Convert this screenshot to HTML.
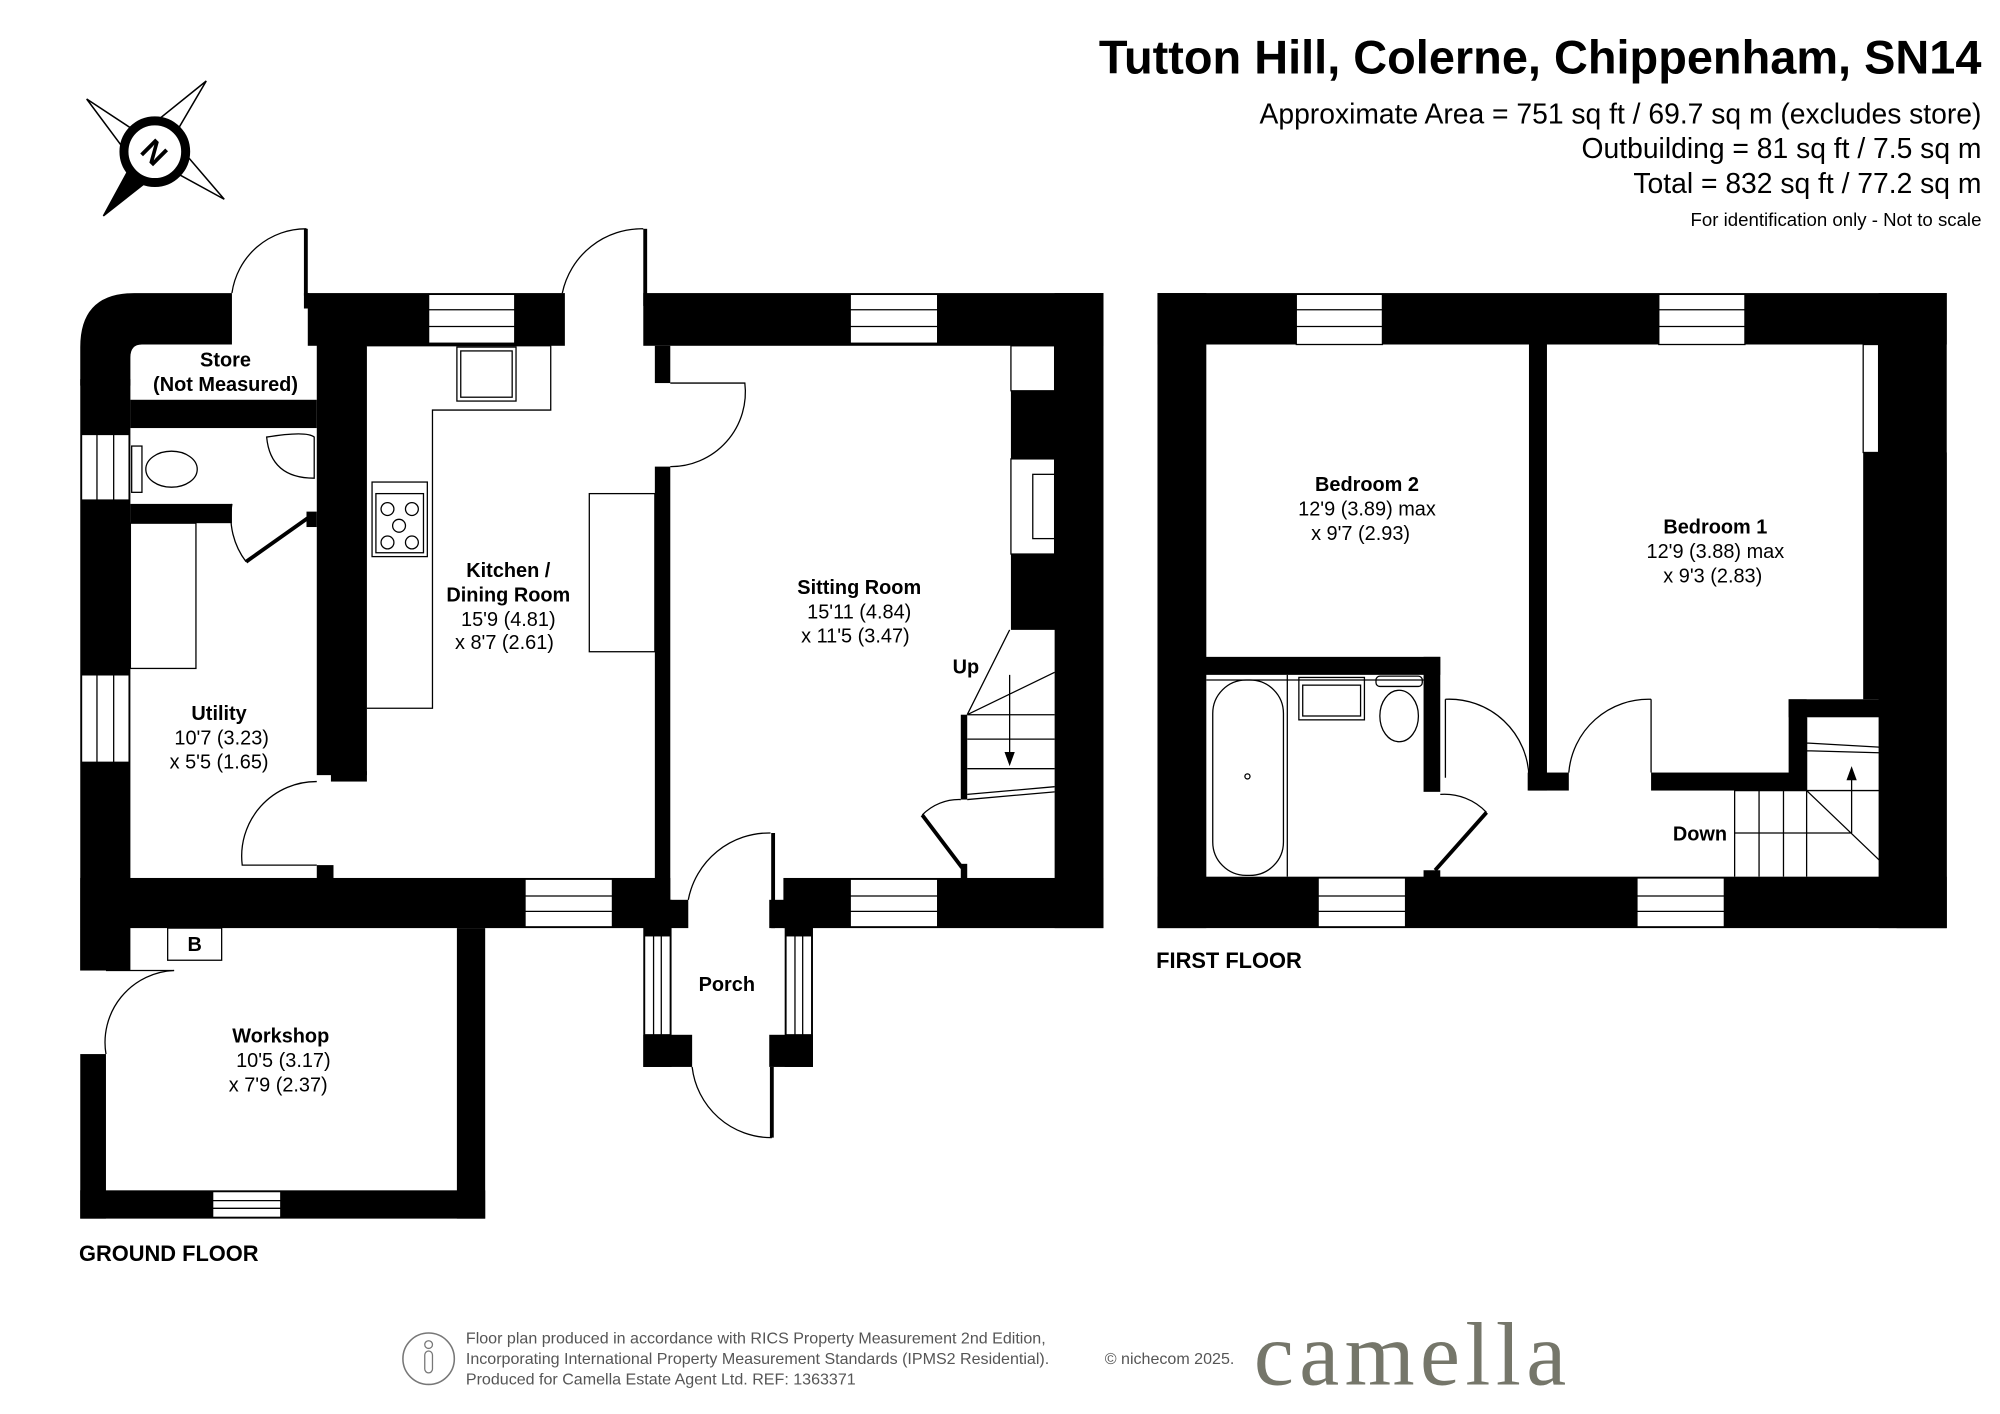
<!DOCTYPE html>
<html><head><meta charset="utf-8"><style>
html,body{margin:0;padding:0;background:#fff}
svg{display:block}
text{font-family:"Liberation Sans",sans-serif;fill:#000}
.b{font-weight:bold}
</style></head><body>
<svg width="2000" height="1414" viewBox="0 0 1555 1100" xmlns="http://www.w3.org/2000/svg">
<rect width="1555" height="1100" fill="#fff"/>
<!-- Title -->
<text x="1541" y="57" text-anchor="end" class="b" font-size="36.5">Tutton Hill, Colerne, Chippenham, SN14</text>
<text x="1541" y="96" text-anchor="end" font-size="22">Approximate Area = 751 sq ft / 69.7 sq m (excludes store)</text>
<text x="1541" y="123" text-anchor="end" font-size="22">Outbuilding = 81 sq ft / 7.5 sq m</text>
<text x="1541" y="150" text-anchor="end" font-size="22">Total = 832 sq ft / 77.2 sq m</text>
<text x="1541" y="176" text-anchor="end" font-size="14.5">For identification only - Not to scale</text>
<!-- Compass -->
<g stroke="#000" stroke-width="1.2" fill="#fff">
<polygon points="67,77 108,104 96,116"/>
<polygon points="160,63 136,104 124,92"/>
<polygon points="174,155 132,132 144,120"/>
<polygon points="80,168 104,124 118,138" fill="#000"/>
<circle cx="120" cy="118" r="24" stroke-width="7"/>
</g>
<text x="120" y="127" text-anchor="middle" class="b" font-size="24" transform="rotate(45 120 118)">N</text>

<!-- GROUND FLOOR walls -->
<g fill="#000">
<path d="M62,300 L62,270 Q62,228 104,228 L180,228 L180,268 L110,268 Q101,268 101,278 L101,300 Z"/>
<rect x="236" y="228" width="4" height="12"/>
<rect x="236" y="178" width="3" height="52"/>
<rect x="239" y="228" width="200" height="41"/>
<rect x="62" y="295" width="39" height="460"/>
<rect x="101" y="311" width="145" height="22"/>
<rect x="101" y="392" width="79" height="15"/>
<rect x="238" y="398" width="8" height="12"/>
<rect x="246" y="250" width="39" height="353"/>
<rect x="257" y="600" width="28" height="8"/>
<rect x="246" y="673" width="13" height="12"/>
<rect x="62" y="683" width="459" height="39"/>
<rect x="500" y="228" width="358" height="41"/>
<rect x="500" y="178" width="3" height="60"/>
<rect x="509" y="269" width="12" height="29"/>
<rect x="509" y="363" width="12" height="360"/>
<rect x="820" y="228" width="38" height="494"/>
<rect x="786" y="304" width="36" height="53"/>
<rect x="786" y="431" width="36" height="59"/>
<rect x="609" y="683" width="249" height="39"/>
<rect x="747" y="556" width="5" height="66"/>
<rect x="747" y="672" width="5" height="12"/>
<rect x="500" y="700" width="22" height="130"/>
<rect x="500" y="805" width="38" height="25"/>
<rect x="610" y="700" width="22" height="130"/>
<rect x="598" y="805" width="34" height="25"/>
<rect x="521" y="700" width="14" height="22"/>
<rect x="598" y="700" width="12" height="22"/>
<rect x="62" y="722" width="20" height="33"/>
<rect x="62" y="820" width="20" height="128"/>
<rect x="62" y="926" width="315" height="22"/>
<rect x="355" y="722" width="22" height="226"/>
</g>
<g fill="#fff" stroke="#000" stroke-width="1">
<rect x="333" y="229" width="67" height="38"/>
<rect x="661" y="229" width="68" height="38"/>
<rect x="63" y="338" width="37" height="51"/>
<rect x="63" y="525" width="37" height="68"/>
<rect x="408" y="684" width="68" height="37"/>
<rect x="661" y="684" width="68" height="37"/>
<rect x="501" y="728" width="20" height="77"/>
<rect x="611" y="728" width="20" height="77"/>
<rect x="165" y="927" width="53" height="20"/>
</g>
<g stroke="#000" stroke-width="1" fill="none">
<path d="M333,241H400M333,254H400M661,241H729M661,254H729M408,697H476M408,709H476M661,697H729M661,709H729M165,934H218M165,940H218"/>
<path d="M75,338V389M88,338V389M75,525V593M88,525V593M508,728V805M514,728V805M618,728V805M624,728V805"/>
<path d="M180,228 A58,58 0 0 1 238,178"/>
<path d="M437,228 A63,63 0 0 1 500,178"/>
<path d="M521,298 H579 A58,58 0 0 1 521,363"/>
<path d="M246,608 A58,58 0 0 0 188,673 H246"/>
<path d="M180,392 A58,58 0 0 0 191,437"/>
<path d="M717,634 A40,40 0 0 1 747,622"/>
<path d="M535,700 A64,64 0 0 1 599,648"/>
<path d="M538,830 A62,62 0 0 0 600,885"/>
<path d="M82,820 A56,56 0 0 1 135,755"/>
<path d="M285,269 H428 V319 H336 V551 H285"/>
<rect x="355" y="270" width="46" height="42"/>
<rect x="358" y="273" width="40" height="36"/>
<rect x="289" y="375" width="43" height="58"/>
<rect x="292" y="384" width="37" height="46"/>
<circle cx="301" cy="396" r="5"/><circle cx="320" cy="396" r="5"/><circle cx="310" cy="409" r="5"/><circle cx="301" cy="422" r="5"/><circle cx="320" cy="422" r="5"/>
<rect x="458" y="384" width="51" height="123"/>
<rect x="101" y="407" width="51" height="113"/>
<ellipse cx="133" cy="365" rx="20" ry="14"/>
<rect x="102" y="347" width="8" height="36"/>
<path d="M207,340 Q238,335 244,340 V372 Q210,372 207,340Z"/>
<rect x="786" y="269" width="34" height="35"/>
<rect x="786" y="357" width="34" height="74"/>
<rect x="803" y="369" width="17" height="50"/>
<path d="M785,490 L752,556 M752,556 L820,523 M752,556 H820 M752,575 H820 M752,598 H820 M752,618 L820,612 M752,622 L820,616 M785,525 V591"/>
<rect x="130" y="722" width="42" height="25"/>
<path d="M82,755 H135"/>
</g>
<polygon points="781,585 789,585 785,596" fill="#000"/>
<g stroke="#000" stroke-width="3" fill="none">
<path d="M239,403 L191,437 M717,634 L748,675 M601,648 V722 M600,830 V885"/>
</g>
<g font-size="15.5" text-anchor="middle">
<text x="175" y="285" class="b">Store</text>
<text x="175" y="304" class="b">(Not Measured)</text>
<text x="395" y="449" class="b">Kitchen /</text>
<text x="395" y="468" class="b">Dining Room</text>
<text x="395" y="487">15'9 (4.81)</text>
<text x="392" y="505">x 8'7 (2.61)</text>
<text x="668" y="462" class="b">Sitting Room</text>
<text x="668" y="481">15'11 (4.84)</text>
<text x="665" y="500">x 11'5 (3.47)</text>
<text x="751" y="524" class="b">Up</text>
<text x="170" y="560" class="b">Utility</text>
<text x="172" y="579">10'7 (3.23)</text>
<text x="170" y="598">x 5'5 (1.65)</text>
<text x="565" y="771" class="b">Porch</text>
<text x="151" y="740" class="b">B</text>
<text x="218" y="811" class="b">Workshop</text>
<text x="220" y="830">10'5 (3.17)</text>
<text x="216" y="849">x 7'9 (2.37)</text>
</g>
<text x="61" y="981" class="b" font-size="17">GROUND FLOOR</text>

<!-- FIRST FLOOR -->
<g fill="#000">
<rect x="900" y="228" width="614" height="40"/>
<rect x="900" y="228" width="38" height="494"/>
<rect x="900" y="682" width="614" height="40"/>
<rect x="1461" y="228" width="53" height="494"/>
<rect x="1449" y="352" width="65" height="192"/>
<rect x="1475" y="544" width="39" height="178"/>
<rect x="1391" y="544" width="84" height="14"/>
<rect x="1391" y="544" width="14" height="71"/>
<rect x="1284" y="601" width="121" height="14"/>
<rect x="1189" y="268" width="14" height="347"/>
<rect x="1188" y="601" width="32" height="14"/>
<rect x="932" y="511" width="188" height="14"/>
<rect x="1107" y="511" width="13" height="105"/>
<rect x="1107" y="677" width="13" height="6"/>
</g>
<g fill="#fff" stroke="#000" stroke-width="1">
<rect x="1008" y="229" width="67" height="39"/>
<rect x="1290" y="229" width="67" height="39"/>
<rect x="1025" y="683" width="68" height="38"/>
<rect x="1273" y="683" width="68" height="38"/>
<rect x="1449" y="268" width="12" height="84"/>
</g>
<g stroke="#000" stroke-width="1" fill="none">
<path d="M1008,241H1075M1008,254H1075M1290,241H1357M1290,254H1357M1025,697H1093M1025,709H1093M1273,697H1341M1273,709H1341"/>
<path d="M938,529 H1107 M1001,525 V682"/>
<rect x="943" y="529" width="55" height="152" rx="26"/>
<rect x="1010" y="527" width="51" height="33"/>
<rect x="1013" y="533" width="45" height="24"/>
<rect x="1070" y="526" width="36" height="8" rx="3"/>
<ellipse cx="1088" cy="557" rx="15" ry="20"/>
<circle cx="970" cy="604" r="2"/>
<path d="M1120,618 A45,45 0 0 1 1156,632"/>
<path d="M1124,544 A62,62 0 0 1 1189,605"/>
<path d="M1284,544 A62,62 0 0 0 1220,601"/>
<path d="M1405,558 V682 M1349,615 H1475 M1349,615 V682 M1368,615 V682 M1387,615 V682 M1349,648 H1440 M1405,615 L1475,682 M1405,578 L1475,582 M1405,584 L1475,586 M1440,648 V600 M1124,544 V605 M1284,544 V601"/>
</g>
<polygon points="1436,607 1444,607 1440,596" fill="#000"/>
<path d="M1156,632 L1116,677" stroke="#000" stroke-width="3"/>
<g font-size="15.5" text-anchor="middle">
<text x="1063" y="382" class="b">Bedroom 2</text>
<text x="1063" y="401">12'9 (3.89) max</text>
<text x="1058" y="420">x 9'7 (2.93)</text>
<text x="1334" y="415" class="b">Bedroom 1</text>
<text x="1334" y="434">12'9 (3.88) max</text>
<text x="1332" y="453">x 9'3 (2.83)</text>
<text x="1322" y="654" class="b">Down</text>
</g>
<text x="899" y="753" class="b" font-size="17">FIRST FLOOR</text>

<!-- Footer -->
<circle cx="333" cy="1057" r="20" fill="none" stroke="#777" stroke-width="1.2"/>
<circle cx="333" cy="1046" r="3" fill="none" stroke="#777"/>
<rect x="330" y="1051" width="6" height="17" rx="3" fill="none" stroke="#777"/>
<g font-size="12.5">
<text x="362" y="1045" fill="#555" style="fill:#555">Floor plan produced in accordance with RICS Property Measurement 2nd Edition,</text>
<text x="362" y="1061" style="fill:#555">Incorporating International Property Measurement Standards (IPMS2 Residential).</text>
<text x="362" y="1077" style="fill:#555">Produced for Camella Estate Agent Ltd.   REF: 1363371</text>
<text x="859" y="1061" style="fill:#555">© nichecom 2025.</text>
</g>
<text x="975" y="1077" font-size="70" textLength="243" style="font-family:'Liberation Serif',serif;fill:#75766a">camella</text>
</svg>
</body></html>
